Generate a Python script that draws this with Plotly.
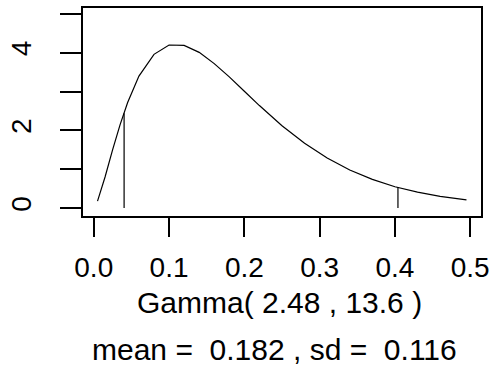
import plotly.graph_objects as go

# Density curve
x_vals = [0.005, 0.015, 0.025, 0.035, 0.045, 0.06, 0.08, 0.10, 0.12, 0.14, 0.16,
          0.18, 0.20, 0.22, 0.25, 0.28, 0.31, 0.34, 0.37, 0.40, 0.43, 0.46, 0.495]
y_vals = [0.18, 0.80, 1.50, 2.15, 2.72, 3.40, 3.96, 4.20, 4.19, 4.01, 3.72,
          3.38, 3.01, 2.64, 2.12, 1.67, 1.29, 0.98, 0.74, 0.55, 0.41, 0.30, 0.21]

# Interval markers (vertical lines)
q_x = [0.0403, 0.404]
q_y = [2.44, 0.54]

x_ticks = [0.0, 0.1, 0.2, 0.3, 0.4, 0.5]
x_ticklabels = ["0.0", "0.1", "0.2", "0.3", "0.4", "0.5"]
y_ticks = [0, 1, 2, 3, 4, 5]
y_ticklabels = ["0", "", "2", "", "4", ""]

title1 = "Gamma( 2.48 , 13.6 )"
title2 = "mean =\u00a0 0.182 , sd =\u00a0 0.116"

FONT = "Liberation Sans, Arial, sans-serif"

fig = go.Figure()
fig.add_trace(go.Scatter(x=x_vals, y=y_vals, mode="lines",
                         line=dict(color="black", width=1.2), showlegend=False))
for qx, qy in zip(q_x, q_y):
    fig.add_trace(go.Scatter(x=[qx, qx], y=[0, qy], mode="lines",
                             line=dict(color="black", width=1.2), showlegend=False))

fig.update_layout(
    width=495, height=376,
    margin=dict(l=76, r=12, t=6, b=160),
    paper_bgcolor="white", plot_bgcolor="white",
    font=dict(family=FONT, size=28, color="black"),
    xaxis=dict(range=[-0.01429, 0.5143], tickvals=x_ticks, ticktext=x_ticklabels,
               showgrid=False, zeroline=False, showline=True, mirror=True,
               linecolor="black", linewidth=2, ticks="outside", ticklen=19,
               tickwidth=2, tickcolor="black", ticklabelstandoff=6,
               tickfont=dict(family=FONT, size=28, color="black")),
    yaxis=dict(range=[-0.204, 5.153], tickvals=y_ticks, ticktext=y_ticklabels,
               showgrid=False, zeroline=False, showline=True, mirror=True,
               linecolor="black", linewidth=2, ticks="outside", ticklen=21,
               tickwidth=2, tickcolor="black", tickangle=-90, ticklabelstandoff=18,
               tickfont=dict(family=FONT, size=28, color="black")),
    annotations=[
        dict(text=title1, xref="paper", yref="paper", x=0.5, y=0, yshift=-86,
             xshift=-3, xanchor="center", yanchor="middle", showarrow=False,
             font=dict(family=FONT, size=30, color="black")),
        dict(text=title2, xref="paper", yref="paper", x=0.5, y=0, yshift=-133,
             xshift=-8, xanchor="center", yanchor="middle", showarrow=False,
             font=dict(family=FONT, size=30, color="black")),
    ],
)

fig.write_html("out.html")
